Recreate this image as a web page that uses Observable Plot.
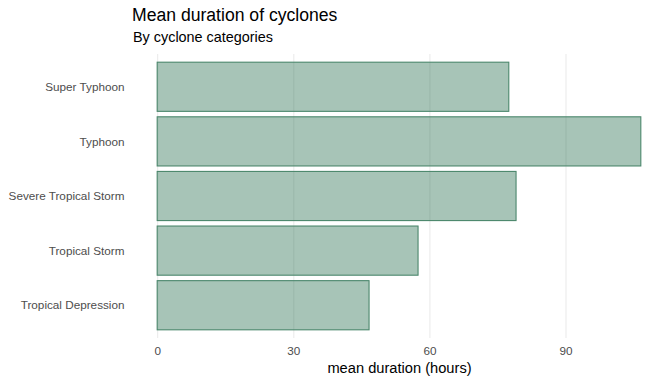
<!DOCTYPE html>
<html>
<head>
<meta charset="utf-8">
<script src="https://cdn.jsdelivr.net/npm/d3@7"></script>
<script src="https://cdn.jsdelivr.net/npm/@observablehq/plot@0.6"></script>
<style>
  html, body { margin: 0; padding: 0; background: #fff; }
  body { width: 672px; height: 384px; overflow: hidden; font-family: "Liberation Sans", Arial, sans-serif; }
  #title { margin: 0; padding-left: 132px; font-size: 17.6px; line-height: 30px; font-weight: normal; color: #000; }
  #subtitle { margin: 0; padding-left: 133px; font-size: 14.4px; line-height: 14px; font-weight: normal; color: #000; }
  #chart svg { display: block; }
</style>
</head>
<body>
<div id="title">Mean duration of cyclones</div>
<div id="subtitle">By cyclone categories</div>
<div id="chart"></div>
<script>
const categories = ["Super Typhoon", "Typhoon", "Severe Tropical Storm", "Tropical Storm", "Tropical Depression"];
const meanHours = [77.5, 106.6, 79.1, 57.5, 46.7];
const xTicks = [0, 30, 60, 90];
const xLabel = "mean duration (hours)";

const data = categories.map((c, i) => ({category: c, hours: meanHours[i]}));
const maxV = d3.max(meanHours);

const chart = Plot.plot({
  width: 672,
  height: 340,
  marginTop: 10,
  marginBottom: 46,
  marginLeft: 133,
  marginRight: 7,
  style: {fontFamily: "Liberation Sans, Arial, sans-serif", background: "#fff"},
  x: {domain: [-0.05 * maxV, maxV * 1.05], ticks: xTicks},
  y: {domain: categories, paddingInner: 0.1, paddingOuter: 0.15, round: false, align: 0.5},
  marks: [
    Plot.gridX(xTicks, {stroke: "#ebebeb", strokeOpacity: 1, strokeWidth: 1.1}),
    Plot.barX(data, {
      x1: 0, x2: "hours", y: "category",
      fill: "#236b4b", fillOpacity: 0.4,
      stroke: "#4b876c", strokeWidth: 1.1
    }),
    Plot.axisX(xTicks, {tickSize: 0, tickPadding: 8.5, fontSize: 11.73, fill: "#4d4d4d", label: null}),
    Plot.axisY({tickSize: 0, tickPadding: 9, fontSize: 11.73, fill: "#4d4d4d", label: null}),
    Plot.text([xLabel], {frameAnchor: "bottom", dy: 34, fontSize: 14.67, fill: "#000"})
  ]
});
document.getElementById("chart").appendChild(chart);
</script>
</body>
</html>
